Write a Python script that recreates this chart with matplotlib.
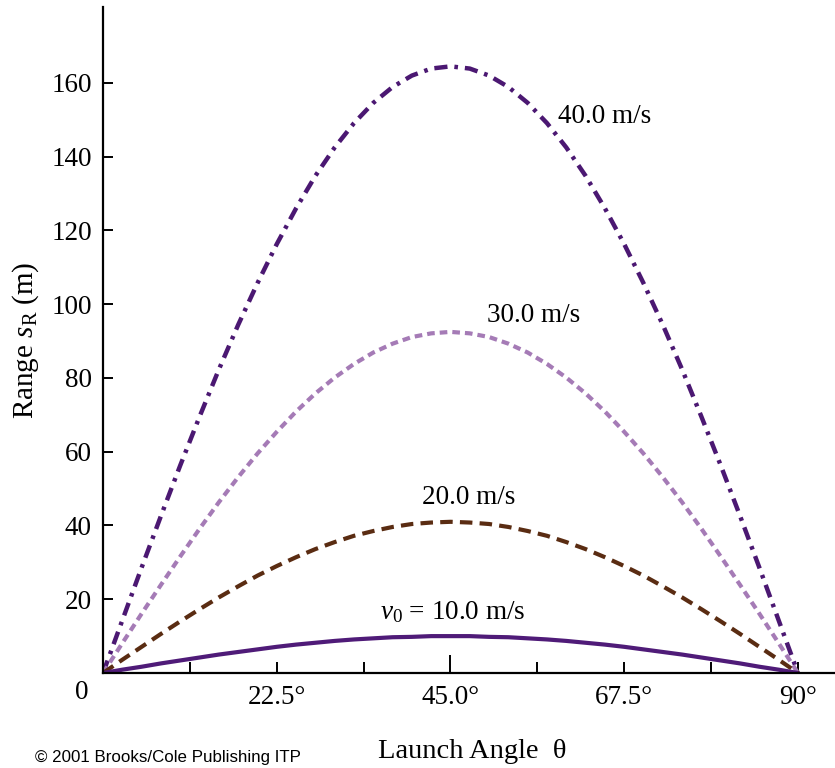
import matplotlib
matplotlib.use("Agg")
import matplotlib.pyplot as plt
from matplotlib.ticker import FixedLocator

plt.rcParams['font.family'] = ['Liberation Serif', 'DejaVu Serif']
plt.rcParams['mathtext.fontset'] = 'custom'
plt.rcParams['mathtext.rm'] = 'Liberation Serif'
plt.rcParams['mathtext.it'] = 'Liberation Serif:italic'
plt.rcParams['lines.scale_dashes'] = False

# Data
angles = [0, 2.5, 5, 7.5, 10, 12.5, 15, 17.5, 20, 22.5, 25, 27.5, 30, 32.5, 35, 37.5,
          40, 42.5, 45, 47.5, 50, 52.5, 55, 57.5, 60, 62.5, 65, 67.5, 70, 72.5,
          75, 77.5, 80, 82.5, 85, 87.5, 90]
range_40 = [0, 14.3, 28.6, 42.6, 56.3, 69.5, 82.3, 94.4, 105.7, 116.3, 126.0, 134.8,
            142.5, 149.1, 154.6, 158.9, 162.0, 163.9, 164.5, 163.9, 162.0, 158.9,
            154.6, 149.1, 142.5, 134.8, 126.0, 116.3, 105.7, 94.4, 82.3, 69.5,
            56.3, 42.6, 28.6, 14.3, 0]
range_30 = [0, 8.1, 16.1, 23.9, 31.6, 39.1, 46.3, 53.1, 59.5, 65.4, 70.9, 75.8,
            80.1, 83.8, 86.9, 89.3, 91.1, 92.1, 92.5, 92.1, 91.1, 89.3, 86.9,
            83.8, 80.1, 75.8, 70.9, 65.4, 59.5, 53.1, 46.3, 39.1, 31.6, 23.9,
            16.1, 8.1, 0]
range_20 = [0, 3.6, 7.1, 10.6, 14.0, 17.3, 20.5, 23.5, 26.4, 29.0, 31.4, 33.6,
            35.5, 37.2, 38.5, 39.6, 40.4, 40.8, 41.0, 40.8, 40.4, 39.6, 38.5,
            37.2, 35.5, 33.6, 31.4, 29.0, 26.4, 23.5, 20.5, 17.3, 14.0, 10.6,
            7.1, 3.6, 0]
range_10 = [0, 0.9, 1.7, 2.6, 3.4, 4.2, 5.0, 5.7, 6.4, 7.1, 7.7, 8.2, 8.7, 9.1,
            9.4, 9.7, 9.8, 10.0, 10.0, 10.0, 9.8, 9.7, 9.4, 9.1, 8.7, 8.2, 7.7,
            7.1, 6.4, 5.7, 5.0, 4.2, 3.4, 2.6, 1.7, 0.9, 0]

x_major = [22.5, 45.0, 67.5, 90]
x_major_labels = ['22.5°', '45.0°', '67.5°', '90°']
x_minor = [11.25, 33.75, 56.25, 78.75]
y_ticks = [20, 40, 60, 80, 100, 120, 140, 160]

fig = plt.figure(figsize=(8.35, 7.68), dpi=100)
ax = fig.add_axes([0.1234, 0.1237, 0.8766, 0.8672])

ax.plot(angles, range_40, color='#4b1872', lw=3.2, linestyle=(0, (9.5, 5, 2.6, 5)),
        dash_capstyle='butt')
ax.plot(angles, range_30, color='#a57bb6', lw=3.0, linestyle=(0, (5.5, 3.6)),
        dash_capstyle='butt')
ax.plot(angles, range_20, color='#5a2c12', lw=3.0, linestyle=(0, (9, 5.2)),
        dash_capstyle='butt')
ax.plot(angles, range_10, color='#4f1b78', lw=3.0, solid_capstyle='butt')

ax.set_xlim(0, 94.8)
ax.set_ylim(0, 180.6)

for s in ['top', 'right']:
    ax.spines[s].set_visible(False)
for s in ['left', 'bottom']:
    ax.spines[s].set_linewidth(1.6)
    ax.spines[s].set_color('black')

ax.xaxis.set_major_locator(FixedLocator(x_major))
ax.set_xticklabels(x_major_labels)
ax.xaxis.set_minor_locator(FixedLocator(x_minor))
ax.set_yticks(y_ticks)
ax.set_yticklabels([str(v) for v in y_ticks])

ax.tick_params(axis='x', which='major', direction='in', length=8, width=1.4,
               pad=9, labelsize=19.5)
ax.tick_params(axis='x', which='minor', direction='in', length=8, width=1.4)
ax.tick_params(axis='y', which='major', direction='in', length=7.5, width=1.4,
               pad=8, labelsize=19.5)
# the 45° tick is drawn longer
ax.xaxis.get_major_ticks()[1].tick1line.set_markersize(13)

# origin label
ax.text(-2.7, -5.2, '0', fontsize=19.5, ha='center', va='center',
        transform=ax.transData, clip_on=False)

# curve labels
ax.text(58.9, 151.0, '40.0 m/s', fontsize=19.5, ha='left', va='center')
ax.text(49.7, 97.0, '30.0 m/s', fontsize=19.5, ha='left', va='center')
ax.text(41.3, 47.7, '20.0 m/s', fontsize=19.5, ha='left', va='center')
ax.text(35.9, 16.5, '$v_0$ = 10.0 m/s', fontsize=19.5, ha='left', va='center')

fig.text(0.0303, 0.5573, 'Range $s_{\\mathrm{R}}$ (m)', fontsize=21, rotation=90,
         ha='center', va='center')
fig.text(0.5655, 0.021, 'Launch Angle  θ', fontsize=20.5, ha='center', va='center')
fig.text(0.042, 0.014, '© 2001 Brooks/Cole Publishing ITP', fontsize=12.2,
         family='Liberation Sans', ha='left', va='center')

fig.savefig('out.png', dpi=100)
